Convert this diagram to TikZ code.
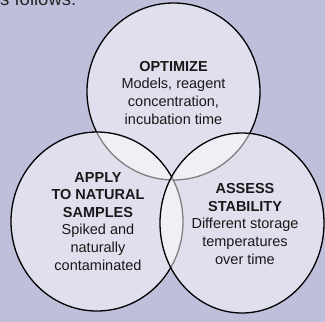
\documentclass[tikz,border=0pt]{standalone}
\usepackage{fontspec}
\setmainfont{Liberation Sans}
\usetikzlibrary{shapes.geometric}
\definecolor{pagebg}{RGB}{191,191,220}
\tikzset{
  venn/.style={ellipse, draw=black, line width=1.3pt, fill=white, fill opacity=0.5, inner sep=0pt},
  venntext/.style={align=center, font=\fontsize{14.5}{17.6}\selectfont, text=black!90, inner sep=0pt},
}
\begin{document}
\begin{tikzpicture}[x=1pt, y=-1pt]
  % canvas
  \fill[pagebg] (0,0) rectangle (325,322);
  \useasboundingbox (0,0) rectangle (325,322);
  \clip (0,0) rectangle (325,322);

  % lead-in line of the surrounding paragraph
  \node[anchor=base west, inner sep=0pt, font=\fontsize{18.5}{20}\selectfont, text=black!85] (lead) at (0,5) {s follows:};

  % three overlapping circles, drawn top, left, right
  \node[venn, minimum width=173pt, minimum height=177pt] (opt) at (173.5,91.5) {};
  \node[venn, minimum width=172pt, minimum height=179pt] (app) at (97,221.5) {};
  \node[venn, minimum width=164pt, minimum height=180pt] (ass) at (242,223) {};

  % labels (anchored on the baseline of their last line)
  \node[venntext, anchor=base] (optt) at (173.5,124)
    {\textbf{OPTIMIZE}\\Models, reagent\\concentration,\\incubation time};
  \node[venntext, anchor=base] (appt) at (98,270)
    {\textbf{APPLY}\\\textbf{TO NATURAL}\\\textbf{SAMPLES}\\Spiked and\\naturally\\contaminated};
  \node[venntext, anchor=base] (asst) at (245,264)
    {\textbf{ASSESS}\\\textbf{STABILITY}\\Different storage\\temperatures\\over time};
\end{tikzpicture}
\end{document}
